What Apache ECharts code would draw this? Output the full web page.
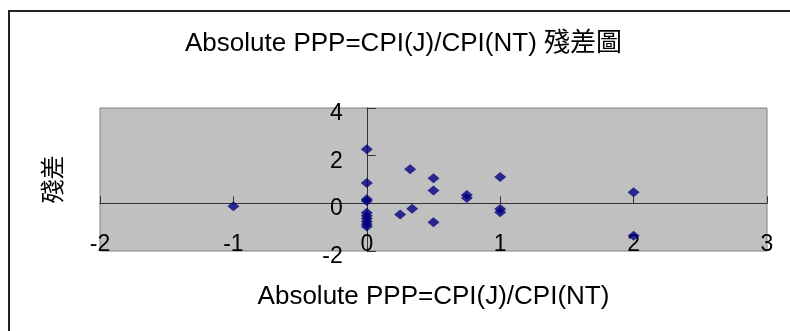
<!DOCTYPE html>
<html>
<head>
<meta charset="utf-8">
<script src="https://cdn.jsdelivr.net/npm/echarts@6/dist/echarts.min.js"></script>
<style>
html,body{margin:0;padding:0;background:#fff;}
#frame{position:absolute;left:8px;top:10px;width:800px;height:340px;border:2px solid #222;box-sizing:border-box;}
#chart{position:absolute;left:0;top:0;width:790px;height:331px;}
</style>
</head>
<body>
<div id="frame"></div>
<div id="chart"></div>
<script>
const titleText = 'Absolute PPP=CPI(J)/CPI(NT) 殘差圖';
const xAxisName = 'Absolute PPP=CPI(J)/CPI(NT)';
const yAxisName = '殘差';
const xTicks = [-2, -1, 0, 1, 2, 3];
const yTicks = [-2, 0, 2, 4];
const xValues = [-1, 0, 0, 0, 0, 0, 0, 0, 0, 0, 0, 0.25, 0.325, 0.34, 0.5, 0.5, 0.5, 0.75, 0.75, 1, 1, 1, 2, 2];
const residuals = [-0.12, 2.27, 0.85, 0.17, 0.1, -0.4, -0.52, -0.64, -0.76, -0.88, -0.97, -0.47, 1.43, -0.23, 1.05, 0.54, -0.79, 0.35, 0.22, 1.11, -0.24, -0.37, 0.47, -1.36];

const W = 790, H = 331;
const gLeft = 100, gRight = 23, gTop = 108, gBottom = 80;
const xMin = xTicks[0], xMax = xTicks[xTicks.length - 1];
const yMin = yTicks[0], yMax = yTicks[yTicks.length - 1];
const gW = W - gLeft - gRight, gH = H - gTop - gBottom;
// shift axes so they cross at zero (Excel style)
const yAxisOffset = -gW * (0 - xMin) / (xMax - xMin);
const xAxisOffset = -gH * (0 - yMin) / (yMax - yMin);

const font = "'Liberation Sans', Arial, 'Noto Sans CJK TC', sans-serif";
const chart = echarts.init(document.getElementById('chart'));
chart.setOption({
  backgroundColor: 'transparent',
  animation: false,
  title: {
    text: titleText,
    left: 180, top: 26,
    textStyle: {fontFamily: font, fontSize: 26, fontWeight: 'normal', color: '#000'}
  },
  grid: {
    left: gLeft, right: gRight, top: gTop, bottom: gBottom,
    containLabel: false, outerBoundsMode: 'none',
    show: true, backgroundColor: '#C0C0C0', borderColor: '#808080', borderWidth: 1
  },
  xAxis: {
    type: 'value',
    min: xMin, max: xMax, interval: 1,
    offset: xAxisOffset,
    name: xAxisName, nameLocation: 'middle', nameGap: 80, nameMoveOverlap: false,
    nameTextStyle: {fontFamily: font, fontSize: 26, color: '#000'},
    axisLine: {onZero: false, lineStyle: {color: '#333', width: 1}},
    axisTick: {show: true, inside: true, length: 7, lineStyle: {color: '#333'}},
    axisLabel: {margin: 30, fontFamily: font, fontSize: 23, color: '#000'},
    splitLine: {show: false}
  },
  yAxis: {
    type: 'value',
    min: yMin, max: yMax, interval: 2,
    offset: yAxisOffset,
    name: yAxisName, nameLocation: 'middle', nameGap: 300, nameRotate: 90, nameMoveOverlap: false,
    nameTextStyle: {fontFamily: font, fontSize: 24, color: '#000'},
    axisLine: {onZero: false, lineStyle: {color: '#333', width: 1}},
    axisTick: {show: true, inside: true, length: 9, lineStyle: {color: '#333'}},
    axisLabel: {margin: 24, fontFamily: font, fontSize: 23, color: '#000', verticalAlign: 'top', lineHeight: 11},
    splitLine: {show: false}
  },
  series: [{
    type: 'scatter',
    symbol: 'diamond',
    symbolSize: [12, 10],
    itemStyle: {color: '#000080'},
    data: xValues.map((x, i) => [x, residuals[i]])
  }]
});
</script>
</body>
</html>
